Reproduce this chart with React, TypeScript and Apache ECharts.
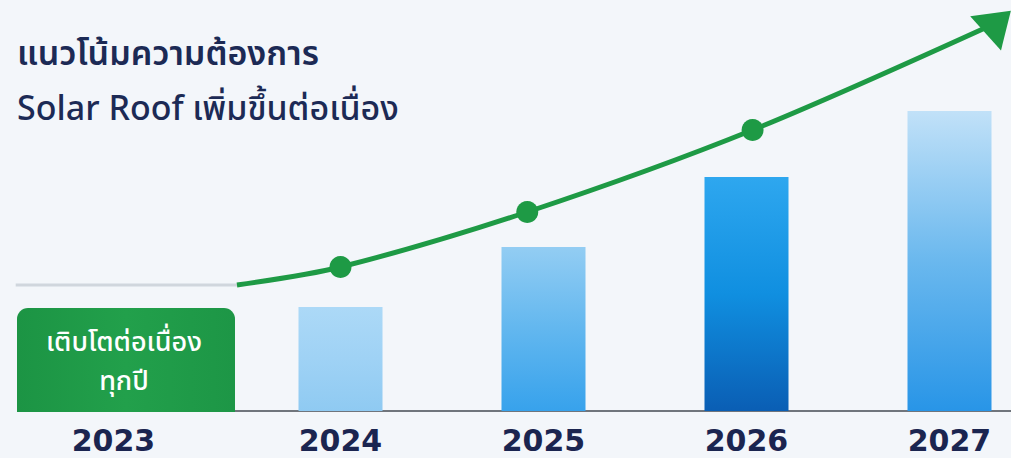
import React, { useEffect, useRef } from "react";
import * as echarts from "echarts";

const years = ["2023", "2024", "2025", "2026", "2027"];
const barValues: (number | null)[] = [null, 104, 164, 234, 300];
// trend line points: [year position, value]
const trendPoints: [number, number][] = [
  [2023.49, 126],
  [2024.0, 144],
  [2024.92, 199],
  [2026.03, 281],
  [2027.24, 389],
];
const baselinePoints: [number, number][] = [
  [2022.4, 126],
  [2023.49, 126],
];
const titleLines = ["แนวโน้มความต้องการ", "Solar Roof เพิ่มขึ้นต่อเนื่อง"];
const boxLines = ["เติบโตต่อเนื่อง", "ทุกปี"];

const barGradients: [string, string, string][] = [
  ["#ffffff", "#ffffff", "#ffffff"],
  ["#acd9f7", "#9fd2f5", "#8fcaf2"],
  ["#93cdf3", "#62b7ef", "#37a2ec"],
  ["#2ea7ef", "#108fe0", "#0a5eb4"],
  ["#c1e1f8", "#6ab8ee", "#2895e7"],
];

const thaiFont = '"Noto Sans Thai", "Noto Sans", "DejaVu Sans", sans-serif';

export default function App() {
  const ref = useRef<HTMLDivElement>(null);
  useEffect(() => {
    if (!ref.current) return;
    const chart = echarts.init(ref.current, undefined, { renderer: "svg" });
    const green = "#1e9a45";
    const gridLeft = 36;
    const band = (1051 - gridLeft) / years.length;
    const trendData = trendPoints.map((p, i) => {
      const last = i === trendPoints.length - 1;
      return {
        value: p,
        symbol: i === 0 ? "none" : last ? "triangle" : "circle",
        symbolSize: last ? [46, 34] : 22,
        symbolRotate: last ? -48 : 0,
      };
    });
    const boxText = (text: string, y: number) => ({
      type: "text",
      x: 124,
      y,
      style: {
        text,
        fill: "#ffffff",
        font: `500 27px ${thaiFont}`,
        align: "center",
        verticalAlign: "middle",
      },
      z: 11,
    });
    chart.setOption({
      animation: false,
      backgroundColor: "#f3f6fa",
      grid: [
        { left: gridLeft, right: 0, top: 11, bottom: 47 },
        { left: 0, right: 0, top: 11, bottom: 47 },
      ],
      xAxis: [
        {
          type: "category",
          gridIndex: 0,
          data: years.map((y, i) =>
            i === 0 ? { value: y, textStyle: { padding: [0, 48, 0, 0] } } : y
          ),
          axisTick: { show: false },
          axisLine: { lineStyle: { color: "#70757c", width: 2 } },
          axisLabel: {
            color: "#1b2550",
            fontSize: 30,
            fontWeight: "bold",
            fontFamily: '"DejaVu Sans", sans-serif',
            margin: 14,
          },
        },
        {
          type: "value",
          gridIndex: 1,
          min: 2022.5 - gridLeft / band,
          max: 2027.5,
          show: false,
        },
      ],
      yAxis: [
        { type: "value", gridIndex: 0, min: 0, max: 400, show: false },
        { type: "value", gridIndex: 1, min: 0, max: 400, show: false },
      ],
      series: [
        {
          type: "bar",
          xAxisIndex: 0,
          yAxisIndex: 0,
          barWidth: 84,
          data: barValues.map((v, i) => ({
            value: v,
            itemStyle: {
              color: new echarts.graphic.LinearGradient(0, 0, 0, 1, [
                { offset: 0, color: barGradients[i][0] },
                { offset: 0.5, color: barGradients[i][1] },
                { offset: 1, color: barGradients[i][2] },
              ]),
            },
          })),
        },
        {
          type: "line",
          xAxisIndex: 1,
          yAxisIndex: 1,
          clip: false,
          symbol: "none",
          data: baselinePoints,
          lineStyle: { width: 3, color: "#d0d6dd" },
        },
        {
          type: "line",
          xAxisIndex: 1,
          yAxisIndex: 1,
          clip: false,
          smooth: 0.3,
          data: trendData,
          lineStyle: { color: green, width: 5 },
          itemStyle: { color: green },
          z: 5,
        },
      ],
      graphic: [
        {
          type: "text",
          left: 17,
          top: 37,
          style: {
            text: titleLines[0],
            fill: "#1c2a55",
            font: `600 34px ${thaiFont}`,
          },
        },
        {
          type: "text",
          left: 17,
          top: 92,
          style: {
            text: titleLines[1],
            fill: "#1c2a55",
            font: `500 34px ${thaiFont}`,
          },
        },
        {
          type: "rect",
          shape: { x: 17, y: 308, width: 218, height: 104, r: [11, 11, 0, 0] },
          style: {
            fill: new echarts.graphic.LinearGradient(0, 0, 1, 0, [
              { offset: 0, color: "#1c9444" },
              { offset: 0.5, color: "#22a04b" },
              { offset: 1, color: "#1d9646" },
            ]),
          },
          z: 10,
        },
        boxText(boxLines[0], 342),
        boxText(boxLines[1], 381),
      ],
    });
    return () => chart.dispose();
  }, []);
  return (
    <div
      style={{
        position: "fixed",
        left: 0,
        top: 0,
        width: 1011,
        height: 458,
        overflow: "hidden",
      }}
    >
      <div ref={ref} style={{ width: 1051, height: 458 }} />
    </div>
  );
}
